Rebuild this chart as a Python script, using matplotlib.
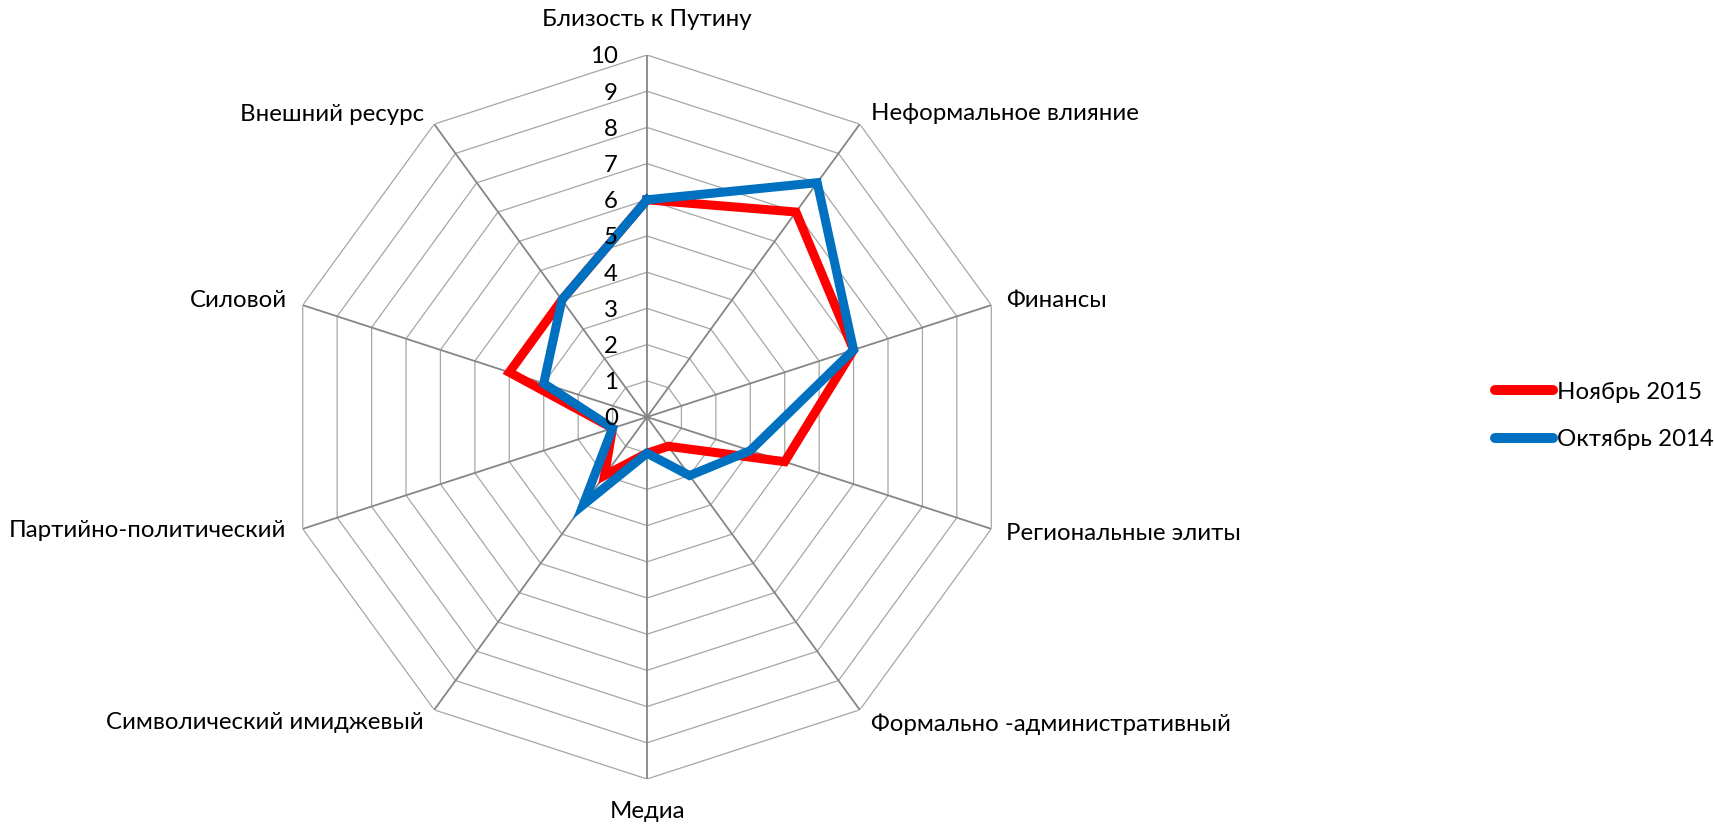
import numpy as np
import matplotlib
matplotlib.use('Agg')
import matplotlib.pyplot as plt

# Категории (по часовой стрелке от верхней оси)
categories = ['Близость к Путину', 'Неформальное влияние', 'Финансы',
              'Региональные элиты', 'Формально -административный', 'Медиа',
              'Символический имиджевый', 'Партийно-политический', 'Силовой',
              'Внешний ресурс']
nov_2015 = [6, 7, 6, 4, 1, 1, 2, 1, 4, 4]
oct_2014 = [6, 8, 6, 3, 2, 1, 3, 1, 3, 4]
series_names = ['Ноябрь 2015', 'Октябрь 2014']
levels = list(range(0, 11))

plt.rcParams['font.family'] = ['Lato', 'DejaVu Sans']
fs = 17.3

fig = plt.figure(figsize=(17.14, 8.24), dpi=100)
ax = fig.add_axes([285 / 1714, 45 / 824, 724 / 1714, 724 / 824], projection='polar')
ax.set_theta_zero_location('N')
ax.set_theta_direction(-1)
ax.set_ylim(0, 10)
ax.grid(False)
ax.set_xticks([])
ax.set_yticks([])
ax.spines['polar'].set_visible(False)

n = len(categories)
theta = np.arange(n) * 2 * np.pi / n
theta_closed = np.append(theta, theta[0])

# сетка-многоугольники
for r in levels[1:]:
    ax.plot(theta_closed, [r] * (n + 1), color='#a6a6a6', lw=0.9, zorder=1)
# оси
for t in theta:
    ax.plot([t, t], [0, 10], color='#868686', lw=1.3, zorder=1)

# подписи шкалы
for r in levels:
    ax.annotate(str(r), xy=(0, r), xytext=(-29, -2), textcoords='offset pixels',
                ha='right', va='center', fontsize=fs, color='black', zorder=5)

# ряды
l1, = ax.plot(theta_closed, nov_2015 + nov_2015[:1], color='#ff0000', lw=6.5,
              solid_joinstyle='miter', zorder=3)
l2, = ax.plot(theta_closed, oct_2014 + oct_2014[:1], color='#0070c0', lw=6.5,
              solid_joinstyle='miter', zorder=4)

# подписи категорий
offsets = [(0, 35, 'center'), (11, 11, 'left'), (15, 5, 'left'), (15, -5, 'left'),
           (11, -14, 'left'), (0, -33, 'center'), (-11, -13, 'right'),
           (-17, -2, 'right'), (-16, 5, 'right'), (-10, 10, 'right')]
for t, name, (dx, dy, ha) in zip(theta, categories, offsets):
    ax.annotate(name, xy=(t, 10), xytext=(dx, dy), textcoords='offset pixels',
                ha=ha, va='center', fontsize=fs, color='black', annotation_clip=False)

leg = fig.legend([l1, l2], series_names, loc='center left',
                 bbox_to_anchor=(1495 / 1714, 1 - 416 / 824), frameon=False,
                 fontsize=fs, handlelength=2.4, handletextpad=0.17,
                 labelspacing=1.12, borderpad=0, borderaxespad=0)
for h in leg.get_lines():
    h.set_linewidth(7.2)
    h.set_solid_capstyle('round')

fig.savefig('out.png', dpi=100, facecolor='white')
